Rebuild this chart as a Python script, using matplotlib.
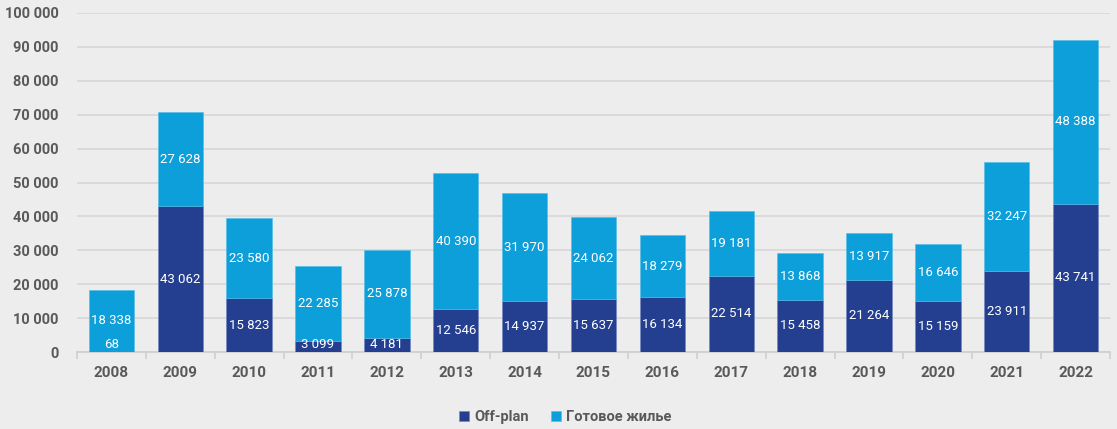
import matplotlib
matplotlib.use("Agg")
import matplotlib.pyplot as plt
import numpy as np

years = ["2008", "2009", "2010", "2011", "2012", "2013", "2014", "2015",
         "2016", "2017", "2018", "2019", "2020", "2021", "2022"]
off_plan = [68, 43062, 15823, 3099, 4181, 12546, 14937, 15637, 16134,
            22514, 15458, 21264, 15159, 23911, 43741]
ready = [18338, 27628, 23580, 22285, 25878, 40390, 31970, 24062, 18279,
         19181, 13868, 13917, 16646, 32247, 48388]
series_names = ["Off-plan", "Готовое жилье"]
colors = ["#243f8f", "#0c9fd9"]
yticks = list(range(0, 100001, 10000))

plt.rcParams['font.family'] = ['Roboto', 'DejaVu Sans']

bg = "#ededed"
fig = plt.figure(figsize=(11.17, 4.29), dpi=100, facecolor=bg)
ax = fig.add_axes([77/1117, (429-352)/429, (1110-77)/1117, (352-13)/429])
ax.set_facecolor(bg)

x = np.arange(len(years))
w = 0.66
ax.bar(x, off_plan, w, color=colors[0], label=series_names[0], zorder=3,
       edgecolor="#6f86c0", linewidth=0.4)
ax.bar(x, ready, w, bottom=off_plan, color=colors[1], label=series_names[1],
       zorder=3, edgecolor="#4fbde8", linewidth=0.4)

def fmt(v):
    return f"{v:,}".replace(",", " ")

for i in range(len(years)):
    yo = max(off_plan[i] / 2, 2200)
    ax.text(x[i], yo, fmt(off_plan[i]), ha="center", va="center",
            color="white", fontsize=9.5, zorder=4)
    yr = off_plan[i] + ready[i] / 2
    ax.text(x[i], yr, fmt(ready[i]), ha="center", va="center",
            color="white", fontsize=9.5, zorder=4)

ax.set_ylim(0, 100000)
ax.set_xlim(-0.5, len(years) - 0.5)
ax.set_yticks(yticks)
ax.set_yticklabels([fmt(v) for v in yticks], fontsize=10.5, color="#595959",
                   fontweight="bold")
ax.set_xticks(x)
ax.set_xticklabels(years, fontsize=11, color="#595959", fontweight="bold")
ax.tick_params(axis="y", length=0, pad=13)
ax.tick_params(axis="x", length=0, pad=10)
ax.set_xticks(np.arange(-0.5, len(years), 1), minor=True)
ax.tick_params(axis="x", which="minor", length=5, color="#d0d0d0", width=1.2)

ax.grid(axis="y", color="#d9d9d9", linewidth=1.3, zorder=0)
for s in ["top", "right", "left"]:
    ax.spines[s].set_visible(False)
ax.spines["bottom"].set_color("#d0d0d0")
ax.spines["bottom"].set_linewidth(1.3)

leg = fig.legend(loc="center", bbox_to_anchor=(565/1117, 1 - 417/429), ncol=2,
                 frameon=False, fontsize=10.5, handlelength=0.7, handleheight=0.7,
                 columnspacing=1.5, handletextpad=0.35)
for t in leg.get_texts():
    t.set_color("#595959")
    t.set_fontweight("bold")

fig.savefig("out.png", dpi=100, facecolor=bg)
